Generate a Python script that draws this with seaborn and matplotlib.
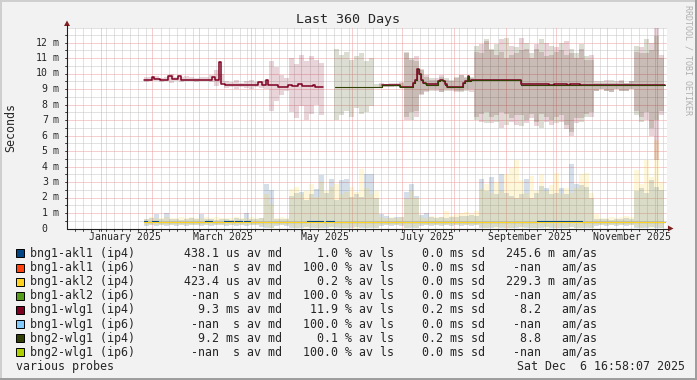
import datetime as dt
import numpy as np
import matplotlib
matplotlib.use("Agg")
import matplotlib.pyplot as plt
from matplotlib.patches import Polygon, Rectangle
from matplotlib.lines import Line2D
import seaborn as sns

sns.set_style("white")
plt.rcParams["font.family"] = ["DejaVu Sans Mono", "DejaVu Sans"]

W, H = 697, 380
nan = np.nan

# ── Legend table (text as printed under the graph) ────────
names = ["bng1-akl1 (ip4)", "bng1-akl1 (ip6)", "bng1-akl2 (ip4)", "bng1-akl2 (ip6)",
         "bng1-wlg1 (ip4)", "bng1-wlg1 (ip6)", "bng2-wlg1 (ip4)", "bng2-wlg1 (ip6)"]
colors = ["#004586", "#ff420e", "#ffd320", "#579d1c",
          "#7e0021", "#83caff", "#314004", "#aecf00"]
med_txt = ["438.1", "-nan", "423.4", "-nan", "9.3", "-nan", "9.2", "-nan"]
med_pfx = ["u", " ", "u", " ", "m", " ", "m", " "]
loss_txt = ["1.0", "100.0", "0.2", "100.0", "11.9", "100.0", "0.1", "100.0"]
sd_txt = ["0.0", "0.0", "0.0", "0.0", "0.2", "0.0", "0.2", "0.0"]
amas_txt = ["245.6", "-nan", "229.3", "-nan", "8.2", "-nan", "8.8", "-nan"]
amas_pfx = ["m", " ", "m", " ", " ", " ", " ", " "]

# ── Smoke (ms), 3-day bins starting at day 46 of the 360-day window ──
smoke_start = 46.0
smoke_step = 3.0

akl1_hi = [0.6, 0.65, 0.95, 0.62, 1.0, 0.6, 0.62, 0.58, 0.62, 0.65, 0.6, 0.95, 0.62, 0.6, 0.58, 0.62,
           0.6, 0.58, 0.65, 0.62, 1.0, 0.6, 0.62, 0.7, 2.9, 2.5, 0.6, 0.62, 0.6,
           2.1, 2.3, 2.35, 1.85, 2.24, 2.56, 3.42, 2.3, 3.2, 1.85, 3.1, 3.2, 2.05, 2.24, 2.05, 3.53, 3.53, 2.0,
           0.95, 0.8, 0.7, 0.75, 0.72, 2.35, 2.88, 2.1,
           0.9, 1.0, 0.72, 0.7, 0.75, 0.7, 0.72, 0.75, 0.8, 0.78, 0.9, 0.8,
           3.2, 2.4, 3.3, 2.2, 3.5, 2.3, 2.1, 2.0, 2.2, 3.2, 2.0, 2.3, 2.77, 2.6, 2.2, 2.3, 2.6, 2.24, 4.17,
           2.9, 2.8, 2.7, 2.0,
           0.6, 0.62, 0.6, 0.58, 0.62, 0.6, 0.65, 0.62,
           2.4, 2.6, 2.3, 3.1, 2.7, 2.5]
akl1_lo = [0.18, 0.2, 0.15, 0.2, 0.18, 0.2, 0.15, 0.2, 0.18, 0.2, 0.2, 0.15, 0.2, 0.18, 0.2, 0.2,
           0.15, 0.2, 0.18, 0.2, 0.15, 0.2, 0.2, 0.1, 0.05, 0.05, 0.18, 0.2, 0.15,
           0.05, 0.02, 0.05, 0.08, 0.02, 0.05, 0.02, 0.05, 0.08, 0.02, 0.05, 0.02, 0.05, 0.08, 0.02, 0.05, 0.02, 0.05,
           0.15, 0.2, 0.18, 0.2, 0.15, 0.05, 0.02, 0.05,
           0.18, 0.2, 0.15, 0.2, 0.18, 0.2, 0.15, 0.2, 0.18, 0.2, 0.15, 0.2,
           0.05, 0.02, 0.05, 0.08, 0.02, 0.05, 0.02, 0.05, 0.08, 0.02, 0.05, 0.02, 0.05, 0.08, 0.02, 0.05, 0.02,
           0.05, 0.08, 0.02, 0.05, 0.02, 0.05,
           0.18, 0.2, 0.15, 0.2, 0.18, 0.2, 0.15, 0.2,
           0.05, 0.02, 0.05, 0.08, 0.02, 0.05]

akl2_hi = [0.62, 0.75, 0.7, 0.66, 0.72, 0.68, 0.7, 0.74, 0.68, 0.72, 0.66, 0.7, 0.75, 0.68, 0.72, 0.7,
           0.66, 0.7, 0.74, 0.68, 0.7, 0.72, 0.68, 0.66, 2.2, 1.6, 0.68, 0.72, 0.7,
           2.56, 2.67, 2.2, 2.45, 2.88, 2.05, 2.99, 2.45, 2.67, 2.88, 2.24, 2.35, 2.67, 2.35, 3.85, 2.6, 2.24, 2.4,
           0.75, 0.7, 0.72, 0.68, 0.72, 1.9, 2.45, 2.0,
           0.72, 0.7, 0.8, 0.75, 0.72, 1.16, 0.8, 0.95, 1.0, 1.05, 0.95, 1.1,
           2.56, 2.9, 2.3, 3.0, 2.45, 3.5, 3.9, 4.39, 3.1, 2.3, 3.4, 2.45, 3.5, 2.4, 2.8, 3.6, 2.24,
           2.6, 2.3, 2.6, 3.5, 3.6, 2.3,
           0.95, 0.7, 0.65, 0.75, 0.7, 0.72, 0.8, 0.75,
           3.75, 2.9, 4.39, 3.3, 5.7, 3.0]
akl2_lo = [0.22, 0.2, 0.25, 0.2, 0.22, 0.2, 0.24, 0.2, 0.22, 0.2, 0.2, 0.22, 0.2, 0.24, 0.2, 0.22,
           0.2, 0.2, 0.22, 0.2, 0.24, 0.2, 0.22, 0.15, 0.08, 0.05, 0.2, 0.22, 0.2,
           0.08, 0.05, 0.1, 0.05, 0.08, 0.05, 0.05, 0.1, 0.05, 0.08, 0.05, 0.05, 0.1, 0.05, 0.08, 0.05, 0.1, 0.05,
           0.2, 0.22, 0.2, 0.24, 0.2, 0.05, 0.08, 0.05,
           0.2, 0.22, 0.2, 0.2, 0.24, 0.2, 0.22, 0.2, 0.2, 0.22, 0.2, 0.2,
           0.08, 0.05, 0.1, 0.05, 0.08, 0.05, 0.05, 0.1, 0.05, 0.08, 0.05, 0.05, 0.1, 0.05, 0.08, 0.05, 0.1,
           0.05, 0.08, 0.05, 0.05, 0.1, 0.05,
           0.2, 0.22, 0.2, 0.2, 0.24, 0.2, 0.22, 0.2,
           0.08, 0.05, 0.1, 0.05, 0.08, 0.05]

wlg1_hi = [9.75, 9.8, 9.85, 9.7, 9.75, 9.95, 9.8, 9.75, 9.85, 9.8, 9.7, 9.75, 9.8, 9.9, 10.2, 10.0,
           9.5, 9.45, 9.55, 9.4, 9.5, 9.6, 9.45, 9.5, 9.55, 10.8, 10.4, 9.9, 9.7,
           11.0, 10.6, 11.2, 10.8, 11.1, 10.9, 10.7,
           nan, nan, nan, nan, nan, nan, nan, nan, nan, nan, nan,
           9.4, 9.35, 9.4, 9.4, 9.45, 11.3, 10.9, 11.1,
           10.3, 9.9, 9.6, 9.7, 9.9, 9.6, 9.5, 9.7, 9.9, 9.8, 9.7,
           11.4, 11.9, 12.1, 11.5, 11.2, 12.2, 11.0, 11.8, 11.3, 12.3, 11.6, 11.0,
           11.9, 11.4, 12.0, 11.2, 11.7, 11.5, 12.1, 11.3, 11.0, 11.6, 10.9, 11.2,
           9.5, 9.4, 9.6, 9.4, 9.5, 9.6, 9.4, 9.5,
           11.4, 11.7, 11.3, 12.0, 13.0, 11.2]
wlg1_lo = [9.45, 9.5, 9.5, 9.45, 9.5, 9.4, 9.5, 9.45, 9.5, 9.5, 9.45, 9.5, 9.5, 9.45, 9.2, 9.4,
           9.05, 9.1, 9.0, 9.1, 9.05, 9.0, 9.1, 9.05, 9.0, 7.6, 8.2, 8.6, 8.9,
           7.5, 7.1, 7.9, 7.0, 7.4, 8.0, 7.3,
           nan, nan, nan, nan, nan, nan, nan, nan, nan, nan, nan,
           9.15, 9.15, 9.1, 9.2, 9.2, 7.0, 7.5, 7.2,
           8.6, 8.8, 9.0, 8.9, 8.8, 9.0, 8.9, 8.8, 8.9, 9.0, 8.8,
           7.2, 6.9, 7.5, 6.8, 7.3, 6.5, 7.4, 6.9, 6.7, 7.3, 6.8, 7.1,
           6.6, 7.4, 6.9, 6.7, 7.2, 6.9, 6.4, 6.0, 6.8, 7.1, 7.4, 7.2,
           8.9, 9.0, 8.9, 8.8, 9.0, 8.9, 8.9, 9.0,
           7.6, 7.2, 7.0, 6.0, 4.4, 7.3]

wlg2_hi = [nan, nan, nan, nan, nan, nan, nan, nan, nan, nan, nan, nan, nan, nan, nan, nan,
           nan, nan, nan, nan, nan, nan, nan, nan, nan, nan, nan, nan, nan, nan, nan, nan,
           nan, nan, nan, nan, nan, nan,
           11.6, 11.2, 11.4, 10.9, 11.1, 11.3, 10.8, 11.0,
           9.3, 9.3, 9.35, 9.3, 9.35, 9.4, 11.4, 11.0, 10.8,
           10.2, 9.8, 9.7, 9.6, 9.8, 9.7, 9.6, 9.8, 9.9, 9.7, 9.8,
           11.8, 11.3, 12.2, 11.6, 11.9, 11.4, 12.3, 11.2, 11.7, 11.5, 12.0, 11.3,
           11.6, 12.2, 11.1, 11.8, 11.4, 12.0, 11.2, 11.6, 11.3, 11.9, 11.1, 10.9,
           9.4, 9.5, 9.4, 9.6, 9.4, 9.5, 9.4, 9.5,
           11.8, 11.3, 12.2, 11.5, 12.4, 11.0]
wlg2_lo = [nan, nan, nan, nan, nan, nan, nan, nan, nan, nan, nan, nan, nan, nan, nan, nan,
           nan, nan, nan, nan, nan, nan, nan, nan, nan, nan, nan, nan, nan, nan, nan, nan,
           nan, nan, nan, nan, nan, nan,
           7.0, 7.3, 7.6, 7.2, 7.8, 7.4, 7.5, 7.9,
           9.1, 9.1, 9.1, 9.15, 9.15, 9.1, 7.2, 7.0, 7.6,
           8.7, 8.9, 8.9, 9.0, 8.8, 8.9, 9.0, 8.9, 8.8, 8.9, 9.0,
           7.0, 7.4, 6.8, 7.2, 6.9, 7.5, 6.7, 7.1, 7.3, 6.6, 7.0, 7.4,
           6.9, 6.5, 7.2, 7.0, 6.8, 7.3, 6.7, 6.2, 7.1, 6.9, 7.2, 7.5,
           8.9, 9.0, 8.9, 8.8, 9.0, 8.9, 8.9, 9.0,
           7.3, 6.9, 7.5, 6.5, 7.0, 7.6]

# ── Median lines: step change points (day, ms) ────────────
akl1_med_days = [46.0, 48.0, 50.7, 54.8, 83.0, 87.2, 94.0, 99.5, 100.6, 104.7, 106.4, 109.9,
                 143.9, 153.8, 155.4, 160.0, 282.1, 308.8, 358.8]
akl1_med = [0.47, 0.41, 0.47, 0.41, 0.47, 0.41, 0.47, 0.41, 0.47, 0.41, 0.47, 0.41,
            0.47, 0.41, 0.47, 0.41, 0.47, 0.41, 0.41]
akl2_med_days = [46.0, 358.8]
akl2_med = [0.41, 0.41]

wlg1_med_days_a = [46.4, 50.8, 52.4, 55.8, 60.8, 62.8, 66.8, 68.4, 87.2, 88.8, 91.2, 92.4, 94.8,
                   114.8, 116.8, 119.4, 120.8, 126.8, 132.8, 134.8, 138.8, 140.8, 147.8, 148.8, 153.8]
wlg1_med_a = [9.59, 9.76, 9.66, 9.59, 9.87, 9.66, 9.83, 9.61, 9.76, 9.61, 10.77, 9.33, 9.27,
              9.48, 9.23, 9.55, 9.23, 9.12, 9.27, 9.18, 9.33, 9.18, 9.27, 9.16, 9.16]
wlg1_med_days_b = [188.8, 199.8, 207.4, 208.8, 210.2, 211.4, 212.4, 213.8, 215.4, 222.8, 223.8,
                   225.8, 226.8, 227.8, 237.4, 238.8, 240.4, 241.4, 242.2, 272.2, 289.0, 292.0,
                   300.0, 302.0, 308.0, 340.8, 358.8]
wlg1_med_b = [9.27, 9.16, 9.37, 9.59, 10.3, 9.98, 9.59, 9.37, 9.3, 9.51, 9.59,
              9.51, 9.3, 9.16, 9.37, 9.51, 9.81, 9.51, 9.55, 9.3, 9.23, 9.3,
              9.23, 9.3, 9.23, 9.27, 9.27]
wlg2_med_days = [160.8, 188.8, 199.8, 207.4, 208.8, 210.2, 211.4, 212.4, 213.8, 215.4, 222.8, 223.8,
                 225.8, 226.8, 227.8, 237.4, 238.8, 240.4, 241.4, 242.2, 272.2, 340.8, 358.8]
wlg2_med = [9.16, 9.23, 9.12, 9.37, 9.59, 10.3, 9.98, 9.59, 9.37, 9.27, 9.51, 9.59,
            9.51, 9.27, 9.12, 9.37, 9.51, 9.81, 9.51, 9.55, 9.23, 9.27, 9.27]

# ── Layout (pixels) ───────────────────────────────────────
L, R, T, B = 67, 667, 28, 228.5
YMAX = (B - T) / 15.5
start = dt.datetime(2024, 12, 11, 16, 58, 7)


def day(d):
    return (d - start).total_seconds() / 86400.0


def fx(x):
    return x / W


def fy(y):
    return 1 - y / H


def runs(vals):
    out, s = [], None
    for i, v in enumerate(vals):
        if np.isnan(v):
            if s is not None:
                out.append((s, i))
                s = None
        elif s is None:
            s = i
    if s is not None:
        out.append((s, len(vals)))
    return out


fig = plt.figure(figsize=(W / 100, H / 100), dpi=100)
fig.patch.set_facecolor("#f2f2f2")
ax = fig.add_axes([fx(L), fy(B), (R - L) / W, (B - T) / H])
ax.set_facecolor("white")
ax.set_xlim(0, 360)
ax.set_ylim(0, YMAX)
for s in ax.spines.values():
    s.set_visible(False)
ax.set_xticks([])
ax.set_yticks([])

GRID = "#c4c4c4"
MGRID = "#eda0a0"
dots = (0, (1, 1))
# horizontal grid
for v in np.arange(0.5, YMAX, 0.5):
    major = abs(v - round(v)) < 1e-6
    ax.axhline(v, color=MGRID if major else GRID, lw=0.72, ls=dots,
               zorder=0.5 if major else 0.4)
ax.axhline(YMAX, color=GRID, lw=0.72, ls=dots, zorder=0.4)
# vertical grid
month_starts = [day(dt.datetime(2025, m, 1)) for m in range(1, 13)]
minor_days = np.arange(4.8, 360, 4.7)
for d in minor_days:
    if min(abs(d - m) for m in month_starts) > 1.5:
        ax.axvline(d, color=GRID, lw=0.72, ls=dots, zorder=0.4)
for d in month_starts:
    ax.axvline(d, color=MGRID, lw=0.72, ls=dots, zorder=0.5)


def smoke(lo, hi, color):
    lo = np.asarray(lo, float)
    hi = np.asarray(hi, float)
    edges = smoke_start + smoke_step * np.arange(len(hi) + 1)
    for a, b in runs(hi):
        ax.fill_between(edges[a:b + 1], np.append(lo[a:b], lo[b - 1]),
                        np.append(hi[a:b], hi[b - 1]), step="post",
                        color=color, alpha=0.17, linewidth=0, zorder=1)


def median(days, vals, color, lw=0.8):
    sns.lineplot(x=days, y=vals, ax=ax, color=color, linewidth=lw,
                 drawstyle="steps-post", estimator=None, sort=False,
                 legend=False, zorder=2)


smoke(akl1_lo, akl1_hi, colors[0])
median(akl1_med_days, akl1_med, colors[0])
smoke(akl2_lo, akl2_hi, colors[2])
median(akl2_med_days, akl2_med, colors[2])
smoke(wlg1_lo, wlg1_hi, colors[4])
median(wlg1_med_days_a, wlg1_med_a, colors[4], 1.1)
median(wlg1_med_days_b, wlg1_med_b, colors[4], 1.1)
smoke(wlg2_lo, wlg2_hi, colors[6])
median(wlg2_med_days, wlg2_med, colors[6], 0.8)
ax.set_xlabel("")
ax.set_ylabel("")

# ── Axes lines, ticks, arrows ─────────────────────────────
AXIS = "#1f1f1f"
ARROW = "#801f1f"
fig.add_artist(Line2D([fx(L), fx(668)], [fy(B), fy(B)], color=AXIS, lw=0.8))
fig.add_artist(Line2D([fx(L), fx(L)], [fy(B), fy(25)], color=AXIS, lw=0.8))
fig.add_artist(Polygon([[fx(668), fy(B - 3)], [fx(668), fy(B + 3)], [fx(673.5), fy(B)]],
                       closed=True, color=ARROW, lw=0))
fig.add_artist(Polygon([[fx(L - 3), fy(26)], [fx(L + 3), fy(26)], [fx(L), fy(20.5)]],
                       closed=True, color=ARROW, lw=0))
for d in list(minor_days) + month_starts:
    if 0 < d < 360:
        x = L + d / 360 * (R - L)
        fig.add_artist(Line2D([fx(x), fx(x)], [fy(B), fy(B + 2)], color=AXIS, lw=0.6))
for v in np.arange(0.5, YMAX, 0.5):
    y = B - v * 15.5
    fig.add_artist(Line2D([fx(L - 2), fx(L)], [fy(y), fy(y)], color=AXIS, lw=0.6))

# ── Text ──────────────────────────────────────────────────
TICK = 7.1
for v in range(0, 13):
    y = B - v * 15.5
    fig.text(fx(47.8), fy(y), f"{v}", ha="right", va="center", fontsize=TICK)
    if v:
        fig.text(fx(52.5), fy(y), "m", ha="left", va="center", fontsize=TICK)
label_months = [1, 3, 5, 7, 9, 11]
for m in label_months:
    d = day(dt.datetime(2025, m, 15, 12))
    x = L + d / 360 * (R - L)
    fig.text(fx(x), fy(237.5), dt.datetime(2025, m, 1).strftime("%B %Y"),
             ha="center", va="center", fontsize=TICK)

fig.text(fx(348.5), fy(19.3), "Last 360 Days", ha="center", va="center", fontsize=9.6)
fig.text(fx(10.5), fy(127.5), "Seconds", ha="center", va="center", rotation=90, fontsize=8.4)
fig.text(fx(688), fy(60), "RRDTOOL / TOBI OETIKER", ha="center", va="center",
         rotation=270, fontsize=6.0, color="#b0b0b0")

LEG = 8.37
for i, nm in enumerate(names):
    y = 253.4 + i * 14.14
    fig.add_artist(Rectangle((fx(16), fy(y + 4)), 8 / W, 8 / H, facecolor=colors[i],
                             edgecolor="black", lw=0.7))
    row = (f"{nm:<15}       {med_txt[i]:>5} {med_pfx[i]}s av md   {loss_txt[i]:>5} % av ls"
           f"  {sd_txt[i]:>5} ms sd   {amas_txt[i]:>5} {amas_pfx[i]} am/as")
    fig.text(fx(30), fy(y), row, ha="left", va="center", fontsize=LEG)
fig.text(fx(15.5), fy(366.5), "various probes", ha="left", va="center", fontsize=LEG)
fig.text(fx(685), fy(366.5), "Sat Dec  6 16:58:07 2025", ha="right", va="center", fontsize=LEG)

# frame shading
fig.add_artist(Rectangle((0, fy(2)), 1, 2 / H, color="#cfcfcf", lw=0))
fig.add_artist(Rectangle((0, 0), 2 / W, 1, color="#cfcfcf", lw=0))
fig.add_artist(Rectangle((0, 0), 1, 2 / H, color="#9e9e9e", lw=0))
fig.add_artist(Rectangle((1 - 2 / W, 0), 2 / W, 1, color="#9e9e9e", lw=0))

fig.savefig("out.png", dpi=100, facecolor=fig.get_facecolor())
